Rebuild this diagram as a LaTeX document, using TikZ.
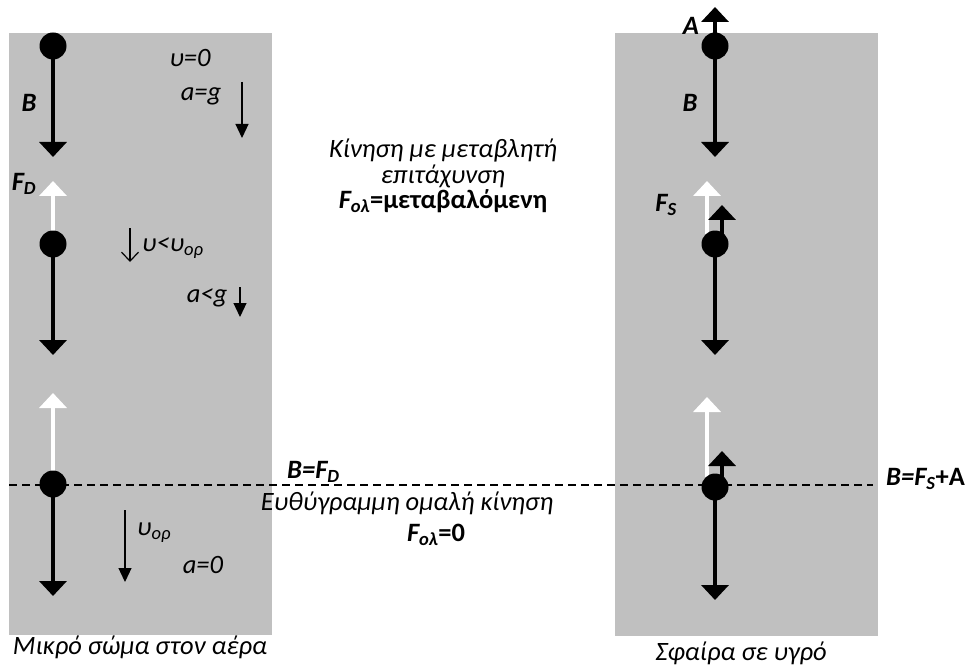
\documentclass[tikz,border=0pt]{standalone}
\usepackage{fontspec}
\setmainfont{Carlito}
\usetikzlibrary{arrows.meta}
\definecolor{bg}{HTML}{C0C0C0}

\tikzset{
  ball/.style={circle,fill=black,inner sep=0pt,minimum size=27pt},
  force/.style={line width=4pt,-{Triangle[length=15pt,width=27pt]}},
  wforce/.style={force,white},
  kin/.style={line width=1.2pt,-{Triangle[length=14pt,width=13pt]}},
  txt/.style={font=\fontsize{26.5}{30}\selectfont,inner sep=0pt},
}
\newcommand{\bi}[1]{\textbf{\textit{#1}}}

\begin{document}
\begin{tikzpicture}[x=1pt,y=-1pt]
\useasboundingbox (0,0) rectangle (973,668);
      \fill[bg] (9,33) rectangle (272,635);
      \fill[bg] (615,33) rectangle (878,636);
      \coordinate (dl) at (9,485);
      \coordinate (dr) at (873,485);
      \draw[line width=1.2pt,dash pattern=on 8pt off 5pt] (dl) -- (dr);

% ball centres
\coordinate (c1) at (53,46);
\coordinate (c2) at (53,244);
\coordinate (c3) at (53,484);
\coordinate (c4) at (715,46);
\coordinate (c5) at (715,244);
\coordinate (c6) at (715,487);

% arrow tips
\coordinate (t1) at (53,157);
\coordinate (t2) at (53,355);
\coordinate (t3) at (53,596);
\coordinate (w2) at (53,181);
\coordinate (w3) at (53,393);
\coordinate (t4) at (715,157);
\coordinate (t5) at (715,355);
\coordinate (t6) at (715,600);
\coordinate (w5) at (707,181);
\coordinate (w6) at (707,397);
\coordinate (a4) at (715,7);
\coordinate (a5) at (722,205);
\coordinate (a6) at (722,451);

\draw[force] (c1) -- (t1);
\draw[force] (c2) -- (t2);
\draw[force] (c3) -- (t3);
\draw[wforce] (c2) -- (w2);
\draw[wforce] (c3) -- (w3);
\draw[force] (c4) -- (t4);
\draw[force] (c5) -- (t5);
\draw[force] (c6) -- (t6);
\draw[wforce] (w5 |- c5) -- (w5);
\draw[wforce] (w6 |- c6) -- (w6);
\draw[force] (c4) -- (a4);
\draw[force] (a5 |- c5) -- (a5);
\draw[force] (a6 |- c6) -- (a6);

\node[ball] (b1) at (c1) {};
\node[ball] (b2) at (c2) {};
\node[ball] (b3) at (c3) {};
\node[ball] (b4) at (c4) {};
\node[ball] (b5) at (c5) {};
\node[ball] (b6) at (c6) {};

% velocity / acceleration arrows
\coordinate (k1s) at (242,82);  \coordinate (k1e) at (242,138);
\coordinate (k2s) at (130,228); \coordinate (k2e) at (130,262);
\coordinate (k3s) at (240,287); \coordinate (k3e) at (240,317);
\coordinate (k4s) at (125,510); \coordinate (k4e) at (125,582);
\draw[kin] (k1s) -- (k1e);
\draw[line width=1.2pt,-{Straight Barb[length=9pt,width=17pt]}] (k2s) -- (k2e);
\draw[kin] (k3s) -- (k3e);
\draw[kin] (k4s) -- (k4e);

% left column
\node[txt] (lB) at (29,103) {\bi{B}};
\node[txt] (lFD) at (24,184) {\bi{F\textsubscript{D}}};
\node[txt] (v0) at (190,58) {\itshape υ=0};
\node[txt] (ag) at (201,96) {\itshape a=g};
\node[txt,anchor=west] (vl) at (142,248) {\itshape υ<υ\textsubscript{ορ}};
\node[txt] (alg) at (207,298) {\itshape a<g};
\node[txt,anchor=west] (vor) at (137,533) {\itshape υ\textsubscript{ορ}};
\node[txt] (a0) at (203,565) {\itshape a=0};
\node[txt,anchor=base] (capL) at (140,654) {\itshape Μικρό σώμα στον αέρα};

% middle
\node[txt] (m1) at (443,150) {\itshape Κίνηση με μεταβλητή};
\node[txt] (m2) at (443,176) {\itshape επιτάχυνση};
\node[txt] (m3) at (443,201) {\bi{F\textsubscript{ολ}}\textbf{=μεταβαλόμενη}};
\node[txt,anchor=west] (eqD) at (287,472) {\bi{B=F\textsubscript{D}}};
\node[txt] (m4) at (407,503) {\itshape Ευθύγραμμη ομαλή κίνηση};
\node[txt] (m5) at (436,535) {\bi{F\textsubscript{ολ}}\textbf{=0}};

% right column
\node[txt] (rA) at (691,26) {\bi{A}};
\node[txt] (rB) at (690,103) {\bi{B}};
\node[txt] (rFS) at (666,205) {\bi{F\textsubscript{S}}};
\node[txt,anchor=west] (eqS) at (886,479) {\bi{B=F\textsubscript{S}}\textbf{+A}};
\node[txt,anchor=base] (capR) at (741,660) {\itshape Σφαίρα σε υγρό};
\end{tikzpicture}
\end{document}
